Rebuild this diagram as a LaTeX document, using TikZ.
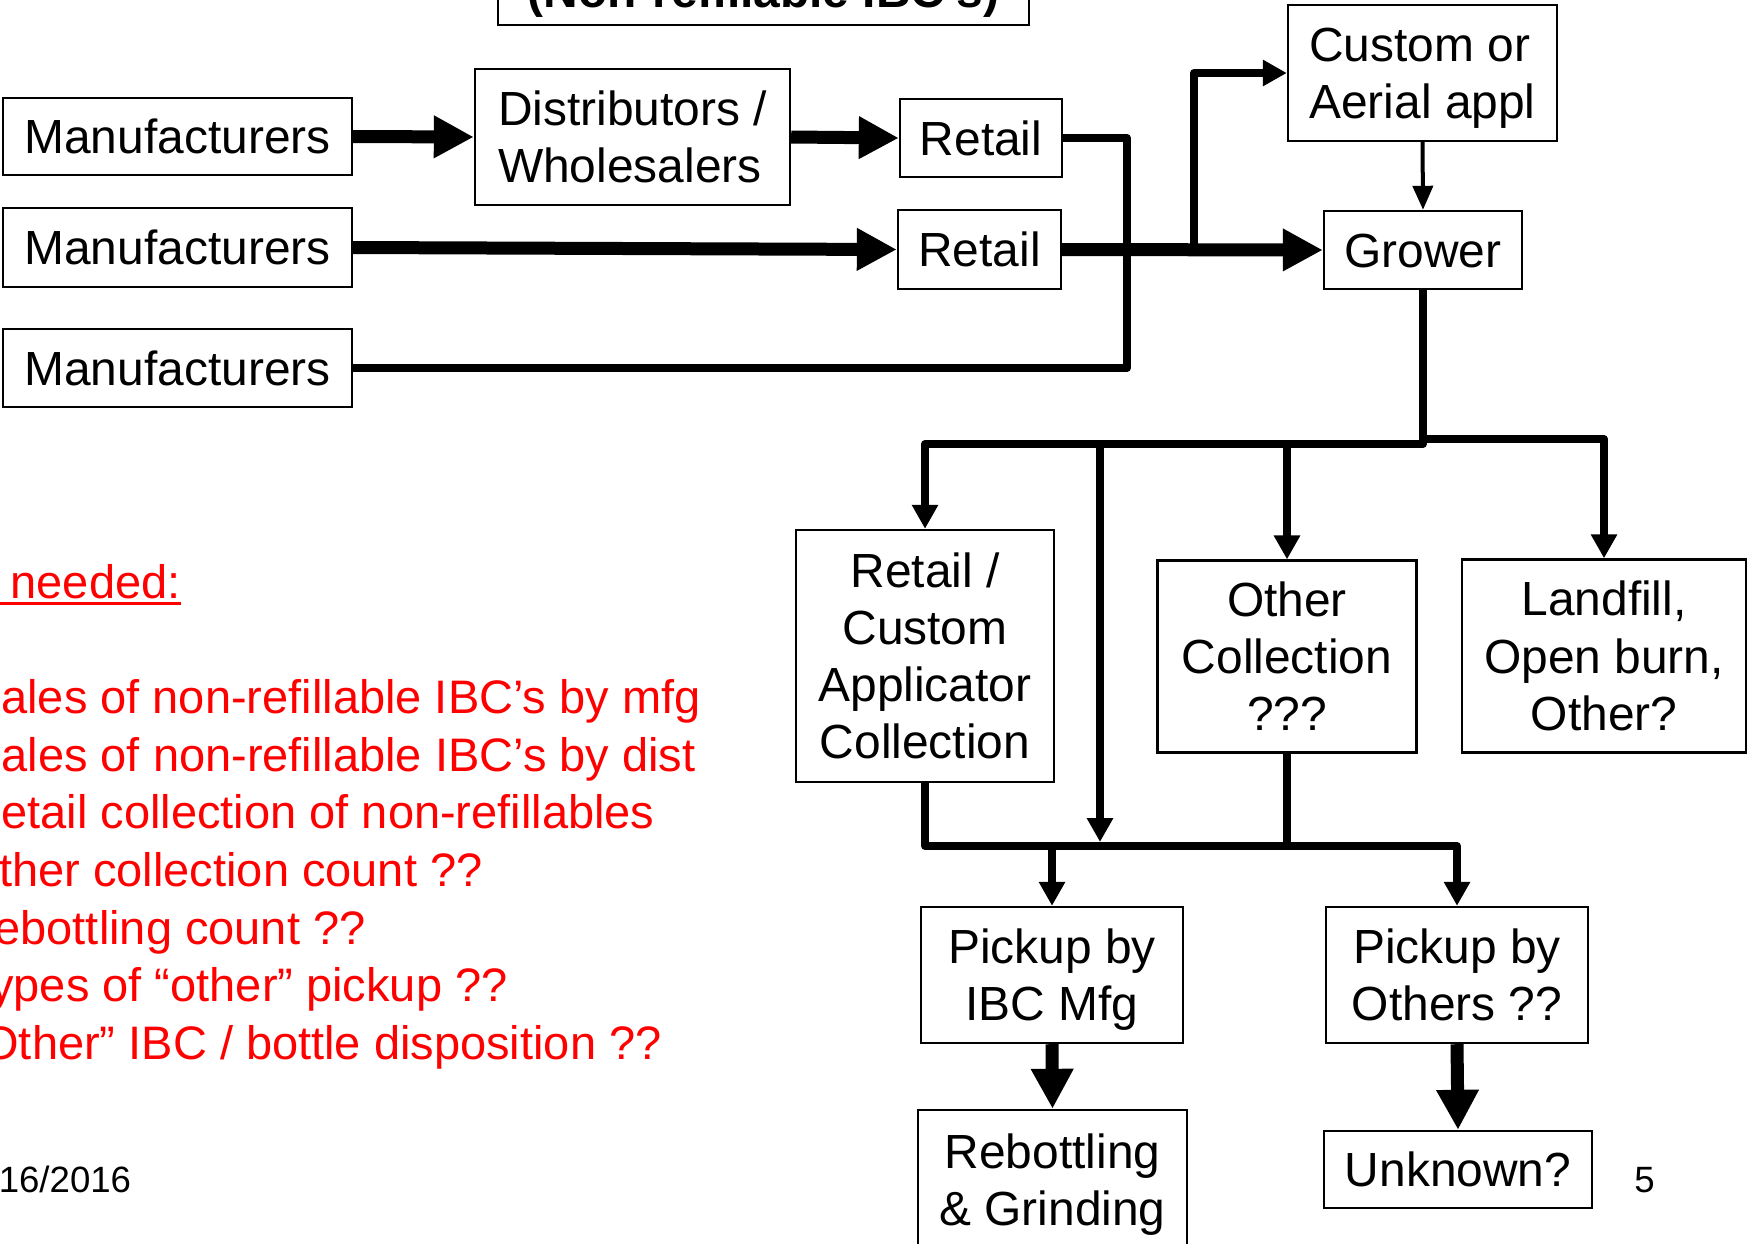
\documentclass[tikz,border=0pt]{standalone}
\usepackage{fontspec}
\setmainfont{Liberation Sans}
\usetikzlibrary{arrows.meta}
\newcommand\bx{\fontsize{23.95pt}{28.6pt}\selectfont}
\newcommand\rx{\fontsize{23.5pt}{28.6pt}\selectfont}
\newcommand\sm{\fontsize{18.3pt}{21.6pt}\selectfont}
\newcommand\ms{\vrule width 0pt height 22pt depth 5pt}
\tikzset{
  box/.style={draw, line width=1.2pt, inner sep=0pt, align=center, font=\bx},
  fat/.style={line width=6.5pt, -{Triangle[length=20pt,width=20pt]}},
  mid/.style={line width=4pt, line join=round},
  midarr/.style={mid, -{Triangle[length=12pt,width=12.5pt]}},
  thinarr/.style={line width=2pt, -{Triangle[length=12pt,width=10pt]}},
  redtxt/.style={text=red, font=\rx, anchor=base east, inner sep=0pt}
}
\begin{document}
\begin{tikzpicture}[x=0.5pt,y=-0.5pt]
\useasboundingbox (0,0) rectangle (1748,1243);
% title box (mostly above the page)
\node[box, font=\bx\bfseries, anchor=south, minimum width=265.5pt, text depth=0pt, inner ysep=8.5pt] (title) at (763.5,26) {(Non-refillable IBC’s)};
% boxes
\node[box, minimum width=174.5pt, minimum height=38.5pt] (m1) at (177.5,136.5) {\ms Manufacturers};
\node[box, minimum width=174.5pt, minimum height=39.5pt] (m2) at (177.5,247.5) {\ms Manufacturers};
\node[box, minimum width=174.5pt, minimum height=39pt] (m3) at (177.5,368) {\ms Manufacturers};
\node[box, align=left, minimum width=157.5pt, minimum height=68pt] (dist) at (632.5,137) {\ms Distributors /\\\ms Wholesalers};
\node[box, minimum width=81pt, minimum height=39pt] (r1) at (981,138) {\ms Retail};
\node[box, minimum width=81.5pt, minimum height=39.5pt] (r2) at (979.5,249.5) {\ms Retail};
\node[box, align=left, minimum width=134.5pt, minimum height=68pt] (cust) at (1422.5,73) {\ms Custom or\\\ms Aerial appl};
\node[box, minimum width=99pt, minimum height=39pt] (grower) at (1423,250) {\ms Grower};
\node[box, minimum width=129.25pt, minimum height=126pt] (rcac) at (925,656) {\ms Retail /\\Custom\\Applicator\\\ms Collection};
\node[box, minimum width=129.5pt, minimum height=96pt] (othc) at (1287,656.6) {\ms Other\\Collection\\\ms ???};
\node[box, minimum width=142pt, minimum height=96.5pt] (landf) at (1604,656) {\ms Landfill,\\Open burn,\\\ms Other?};
\node[box, minimum width=131pt, minimum height=68pt] (pibc) at (1052,975) {\ms Pickup by\\\ms IBC Mfg};
\node[box, minimum width=131pt, minimum height=68pt] (poth) at (1457,975) {\ms Pickup by\\\ms Others ??};
\node[box, minimum width=134.5pt, minimum height=70pt] (rebot) at (1052.5,1180) {\ms Rebottling\\\ms \& Grinding};
\node[box, minimum width=134pt, minimum height=38.5pt] (unk) at (1458,1169.5) {\ms Unknown?};
% upper connectors
\draw[fat] (m1.east) -- (dist.west);
\draw[fat] (dist.east) -- (r1.west);
\draw[fat] (m2.east) -- (r2.west);
\coordinate (rv) at (1127,138);
\draw[mid] (r1.east) -- (rv) |- (m3.east);
\draw[fat] (r2.east) -- (grower.west);
\coordinate (cb) at (1194,250);
\draw[midarr] (cb) |- (cust.west);
\draw[thinarr] (cust.south) -- (grower.north);
% tree below grower
\coordinate (jL) at (1423,444);
\coordinate (jR) at (1423,439);
\draw[midarr] (grower.south) -- (jL) -| (rcac.north);
\draw[midarr] (jR) -| (landf.north);
\draw[midarr] (othc.north |- jL) -- (othc.north);
\coordinate (mtop) at (1100,444);
\coordinate (mtip) at (1100,842);
\draw[midarr] (mtop) -- (mtip);
% collection line
\coordinate (cL) at (1052,846);
\draw[midarr] (rcac.south) -- (rcac.south |- cL) -| (pibc.north);
\draw[mid] (othc.south) -- (othc.south |- cL);
\draw[midarr] (pibc.north |- cL) -| (poth.north);
\draw[fat] (pibc.south) -- (rebot.north);
\draw[fat] (poth.south) -- (unk.north);
% red text
\node[redtxt] (hdr) at (181,598) {Data needed:};
\draw[red, line width=1.5pt] ([yshift=-2.5pt]hdr.base west) -- ([yshift=-2.5pt]hdr.base east);
\node[redtxt] (l1) at (701,713) {Sales of non-refillable IBC’s by mfg};
\node[redtxt] (l2) at (696,771) {Sales of non-refillable IBC’s by dist};
\node[redtxt] (l3) at (655,828.5) {Retail collection of non-refillables};
\node[redtxt] (l4) at (483,886) {Other collection count ??};
\node[redtxt] (l5) at (366,944) {Rebottling count ??};
\node[redtxt] (l6) at (508,1001) {Types of “other” pickup ??};
\node[redtxt] (l7) at (662,1059) {“Other” IBC / bottle disposition ??};
% footer
\node[font=\sm, anchor=base east, inner sep=0pt] (date) at (131.5,1192) {2/16/2016};
\node[font=\sm, anchor=base, inner sep=0pt] (pg) at (1644.5,1192) {5};
\end{tikzpicture}
\end{document}
